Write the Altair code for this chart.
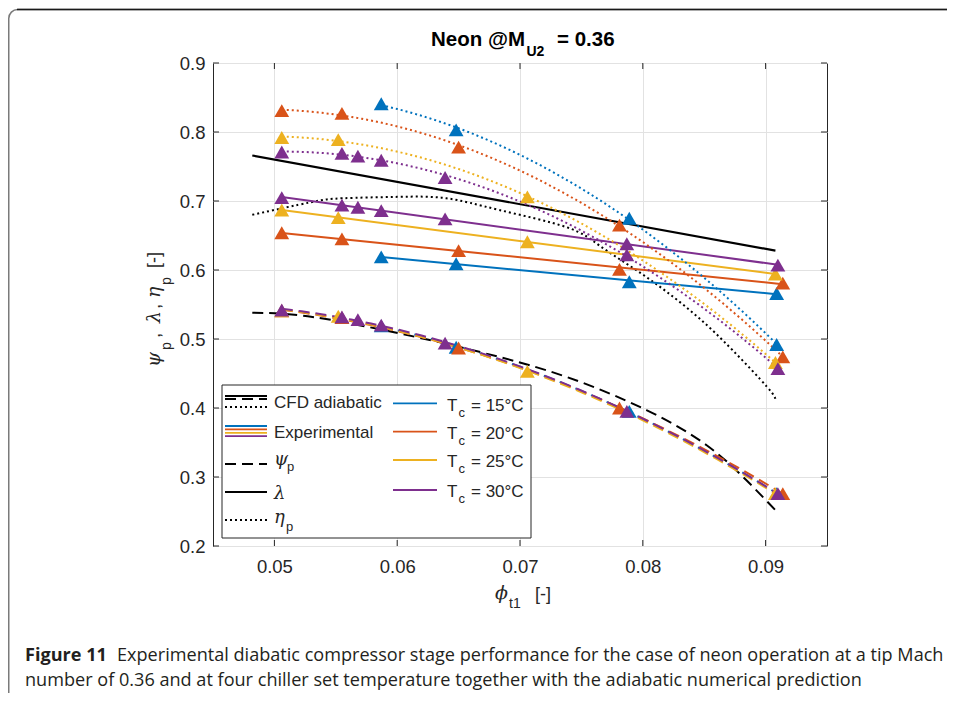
import altair as alt
import pandas as pd

# ---------------- data ----------------
TC = ["15", "20", "25", "30"]
COLORS = ["#0072BD", "#D95319", "#EDB120", "#7E2F8E"]

phi_15 = [0.0587, 0.0648, 0.0789, 0.0909]
lam_15 = [0.619, 0.609, 0.583, 0.566]
eta_15 = [0.841, 0.803, 0.675, 0.492]
psi_15 = [0.519, 0.488, 0.395, 0.276]

phi_20 = [0.0506, 0.0555, 0.0650, 0.0781, 0.0914]
lam_20 = [0.654, 0.645, 0.628, 0.601, 0.581]
eta_20 = [0.831, 0.827, 0.778, 0.665, 0.474]
psi_20 = [0.541, 0.531, 0.487, 0.400, 0.276]

phi_25 = [0.0506, 0.0552, 0.0706, 0.0908]
lam_25 = [0.687, 0.676, 0.641, 0.594]
eta_25 = [0.792, 0.789, 0.706, 0.466]
psi_25 = [0.541, 0.533, 0.453, 0.276]

phi_30 = [0.0506, 0.0555, 0.0568, 0.0587, 0.0639, 0.0787, 0.0910]
lam_30 = [0.705, 0.694, 0.691, 0.686, 0.674, 0.638, 0.607]
eta_30 = [0.771, 0.769, 0.765, 0.759, 0.734, 0.622, 0.457]
psi_30 = [0.542, 0.532, 0.528, 0.520, 0.494, 0.395, 0.276]

# CFD adiabatic prediction
cfd_phi_lam = [0.0482, 0.0908]
cfd_lam = [0.766, 0.628]
cfd_phi_eta = [0.0482, 0.0529, 0.0556, 0.0600, 0.0640, 0.0683, 0.0738, 0.0765,
               0.0792, 0.0819, 0.0846, 0.0873, 0.0901, 0.0908]
cfd_eta = [0.680, 0.698, 0.704, 0.706, 0.704, 0.687, 0.662, 0.635,
           0.603, 0.569, 0.530, 0.484, 0.431, 0.413]
cfd_phi_psi = [0.0482, 0.0531, 0.0602, 0.0645, 0.0683, 0.0738, 0.0803, 0.0852, 0.0884, 0.0908]
cfd_psi = [0.538, 0.532, 0.508, 0.491, 0.474, 0.445, 0.397, 0.346, 0.296, 0.252]

x_ticks = [0.05, 0.06, 0.07, 0.08, 0.09]
y_ticks = [0.2, 0.3, 0.4, 0.5, 0.6, 0.7, 0.8, 0.9]

# ---------------- tables ----------------
exp_sets = {
    "15": (phi_15, lam_15, eta_15, psi_15),
    "20": (phi_20, lam_20, eta_20, psi_20),
    "25": (phi_25, lam_25, eta_25, psi_25),
    "30": (phi_30, lam_30, eta_30, psi_30),
}
rows = []
for order, tc in enumerate(TC):
    phis, lams, etas, psis = exp_sets[tc]
    for q, vals in (("lam", lams), ("eta", etas), ("psi", psis)):
        for p, v in zip(phis, vals):
            rows.append({"phi": p, "val": v, "q": q, "tc": tc, "o": order})
exp_df = pd.DataFrame(rows)

cfd_lam_df = pd.DataFrame({"phi": cfd_phi_lam, "val": cfd_lam})
cfd_eta_df = pd.DataFrame({"phi": cfd_phi_eta, "val": cfd_eta})
cfd_psi_df = pd.DataFrame({"phi": cfd_phi_psi, "val": cfd_psi})
xt_df = pd.DataFrame({"phi": x_ticks})
yt_df = pd.DataFrame({"val": y_ticks})
ONE = pd.DataFrame({"d": [0]})

W, H = 614, 483
INK = "#262626"
SANS = "Liberation Sans"
SERIF = "DejaVu Serif"

xs = alt.Scale(domain=[0.045, 0.095], nice=False, zero=False)
ys = alt.Scale(domain=[0.2, 0.9], nice=False, zero=False)
xaxis = alt.Axis(values=x_ticks, format=".2f", title=None, grid=True, gridColor="#e2e2e2",
                 ticks=False, tickSize=0, domain=False, labelFontSize=18.5, labelFont=SANS,
                 labelColor=INK, labelPadding=11)
yaxis = alt.Axis(values=y_ticks, format=".1f", title=None, grid=True, gridColor="#e2e2e2",
                 ticks=False, tickSize=0, domain=False, labelFontSize=18.5, labelFont=SANS,
                 labelColor=INK, labelPadding=8)
X = alt.X("phi:Q", scale=xs, axis=xaxis)
Y = alt.Y("val:Q", scale=ys, axis=yaxis)
COL = alt.Color("tc:N", scale=alt.Scale(domain=TC, range=COLORS), legend=None)

DOT = [2, 3]
DASH = [11, 6]

layers = []

# CFD curves
layers.append(alt.Chart(cfd_lam_df).mark_line(color="black", strokeWidth=2.2).encode(x=X, y=Y))
layers.append(alt.Chart(cfd_eta_df).mark_line(color="black", strokeWidth=2, strokeDash=DOT,
                                              interpolate="natural").encode(x=X, y=Y))
layers.append(alt.Chart(cfd_psi_df).mark_line(color="black", strokeWidth=2, strokeDash=DASH,
                                              interpolate="natural").encode(x=X, y=Y))

# experimental fits
base = alt.Chart(exp_df)
layers.append(base.transform_filter(alt.datum.q == "lam")
              .transform_regression("phi", "val", groupby=["tc"], method="linear")
              .mark_line(strokeWidth=2).encode(x=X, y=Y, color=COL))
layers.append(base.transform_filter(alt.datum.q == "eta")
              .transform_regression("phi", "val", groupby=["tc"], method="poly", order=2)
              .mark_line(strokeWidth=2, strokeDash=DOT).encode(x=X, y=Y, color=COL))
layers.append(base.transform_filter(alt.datum.q == "psi")
              .transform_regression("phi", "val", groupby=["tc"], method="poly", order=2)
              .mark_line(strokeWidth=2, strokeDash=DASH).encode(x=X, y=Y, color=COL))

# markers
layers.append(base.mark_point(shape="triangle-up", filled=True, size=220, opacity=1)
              .encode(x=X, y=Y, color=COL, order=alt.Order("o:Q")))

# inward ticks (box style)
tk = dict(color=INK, strokeWidth=1)
layers.append(alt.Chart(xt_df).mark_rule(**tk).encode(x=X, y=alt.value(H), y2=alt.value(H - 6)))
layers.append(alt.Chart(xt_df).mark_rule(**tk).encode(x=X, y=alt.value(0), y2=alt.value(6)))
layers.append(alt.Chart(yt_df).mark_rule(**tk).encode(y=Y, x=alt.value(0), x2=alt.value(6)))
layers.append(alt.Chart(yt_df).mark_rule(**tk).encode(y=Y, x=alt.value(W), x2=alt.value(W - 6)))


def txt(s, x, y, size=17, weight="normal", style="normal", font=SANS, align="left",
        baseline="alphabetic", angle=0, color=INK):
    return alt.Chart(ONE).mark_text(text=s, fontSize=size, fontWeight=weight, fontStyle=style,
                                    font=font, align=align, baseline=baseline, angle=angle,
                                    color=color).encode(x=alt.value(x), y=alt.value(y))


def hline(x1, x2, y, color="black", dash=None, width=2):
    kw = dict(color=color, strokeWidth=width)
    if dash:
        kw["strokeDash"] = dash
    return alt.Chart(ONE).mark_rule(**kw).encode(x=alt.value(x1), x2=alt.value(x2), y=alt.value(y))


# legend box
layers.append(alt.Chart(ONE).mark_rect(fill="white", stroke=INK, strokeWidth=1)
              .encode(x=alt.value(9), x2=alt.value(318), y=alt.value(322), y2=alt.value(475)))
# left column
layers.append(hline(12, 54, 333))
layers.append(hline(12, 54, 336, dash=DASH))
layers.append(hline(12, 54, 344, dash=DOT))
layers.append(txt("CFD adiabatic", 61, 345))
for i, c in enumerate(COLORS):
    layers.append(hline(12, 54, 363 + i * 3.4, color=c, width=1.8))
layers.append(txt("Experimental", 61, 375))
layers.append(hline(12, 54, 401, dash=DASH))
layers.append(txt("ψ", 61, 402, size=18, style="italic", font=SERIF))
layers.append(txt("p", 74, 408, size=13))
layers.append(hline(12, 54, 429))
layers.append(txt("λ", 61, 436, size=18, style="italic", font=SERIF))
layers.append(hline(12, 54, 457, dash=DOT))
layers.append(txt("η", 61, 460, size=18, style="italic", font=SERIF))
layers.append(txt("p", 73, 468, size=13))
# right column
row_base = [347.7, 375.7, 404, 433.7]
row_line = [340.3, 368.7, 397, 427]
for tc, c, yb, yl in zip(TC, COLORS, row_base, row_line):
    layers.append(hline(180, 224, yl, color=c, width=1.8))
    layers.append(txt("T", 234, yb))
    layers.append(txt("c", 245.5, yb + 6, size=13))
    layers.append(txt(f"= {tc}°C", 258, yb))

# title
layers.append(txt("Neon @M", 312, -17, size=20.5, weight="bold", align="right", color="black"))
layers.append(txt("U2", 313.5, -7, size=14, weight="bold", color="black"))
layers.append(txt("= 0.36", 344, -17, size=20.5, weight="bold", color="black"))

# x label
layers.append(txt("ϕ", 282, 536, size=19, style="italic", font=SERIF))
layers.append(txt("t1", 296, 545, size=14))
layers.append(txt("[-]", 322, 537, size=18))

# y label (rotated)
layers.append(txt("ψ", -53, 304, size=19, style="italic", font=SERIF, angle=270))
layers.append(txt("p", -42, 287, size=14, angle=270))
layers.append(txt(",", -53, 275, size=19, angle=270))
layers.append(txt("λ", -53, 260, size=19, style="italic", font=SERIF, angle=270))
layers.append(txt(",", -53, 246, size=19, angle=270))
layers.append(txt("η", -53, 235, size=19, style="italic", font=SERIF, angle=270))
layers.append(txt("p", -42, 222, size=14, angle=270))
layers.append(txt("[-]", -53, 205, size=18, angle=270))

# outer frame
layers.append(alt.Chart(ONE).mark_rect(fillOpacity=0, stroke="#7a7a7a", strokeWidth=1.5, cornerRadius=9)
              .encode(x=alt.value(-204.25), x2=alt.value(1200), y=alt.value(-53.5), y2=alt.value(900)))
layers.append(alt.Chart(ONE).mark_rule(color="#1a1a1a", strokeWidth=1.6)
              .encode(x=alt.value(-196), x2=alt.value(740), y=alt.value(-53.5)))

# caption
CAP = "Open Sans"
CS = 18.1
layers.append(txt("Figure 11", -188, 598, size=CS, weight="bold", font=CAP, color="#231f20"))
layers.append(txt("Experimental diabatic compressor stage performance for the case of neon operation at a tip Mach",
                  -96, 598, size=CS, font=CAP, color="#231f20"))
layers.append(txt("number of 0.36 and at four chiller set temperature together with the adiabatic numerical prediction",
                  -188, 623, size=CS, font=CAP, color="#231f20"))

chart = alt.layer(*layers).properties(
    width=W, height=H,
    autosize=alt.AutoSizeParams(type="none"),
    padding={"left": 205, "top": 55, "right": 120, "bottom": 147},
).configure_view(stroke=INK, strokeWidth=1)

chart.save("out.html", embed_options={"renderer": "svg", "actions": False})
